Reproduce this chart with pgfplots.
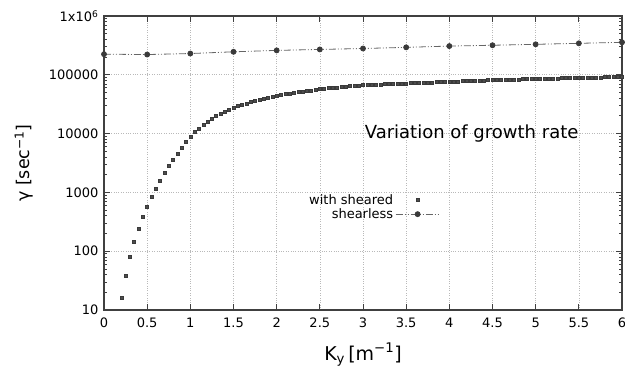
\documentclass[border=0pt]{standalone}
\usepackage{fontspec}
\setmainfont{DejaVu Sans}
\usepackage{pgfplots}
\pgfplotsset{compat=1.18}
\usepackage{pgfplotstable}
\definecolor{axisgray}{HTML}{404040}
\definecolor{markgray}{HTML}{3A3A3A}
\definecolor{linegray}{HTML}{666666}

\pgfplotstableread{
x y
0.20 16
0.25 38
0.30 80
0.35 145
0.40 245
0.45 390
0.50 580
0.55 830
0.60 1150
0.65 1580
0.70 2150
0.75 2800
0.80 3600
0.85 4600
0.90 5800
0.95 7200
1.00 8900
1.05 10600
1.10 12300
1.15 14100
1.20 16000
1.25 18000
1.30 19950
1.35 21900
1.40 23700
1.45 25700
1.50 27500
1.55 29200
1.60 30900
1.65 32700
1.70 34300
1.75 35900
1.80 37600
1.85 39400
1.90 40700
1.95 42200
2.00 43700
2.05 45200
2.10 46800
2.15 47900
2.20 49500
2.25 50700
2.30 51900
2.35 53100
2.40 54300
2.45 55600
2.50 56900
2.55 58200
2.60 59200
2.65 60300
2.70 61200
2.75 62200
2.80 63100
2.85 64000
2.90 64900
2.95 65800
3.00 66500
3.05 67000
3.10 67500
3.15 68000
3.20 68600
3.25 69100
3.30 69600
3.35 70100
3.40 70600
3.45 71100
3.50 71600
3.55 72100
3.60 72600
3.65 73100
3.70 73600
3.75 74100
3.80 74700
3.85 75200
3.90 75700
3.95 76200
4.00 76700
4.05 77200
4.10 77600
4.15 78100
4.20 78500
4.25 79000
4.30 79400
4.35 79900
4.40 80400
4.45 80800
4.50 81300
4.55 81700
4.60 82100
4.65 82500
4.70 82900
4.75 83300
4.80 83700
4.85 84100
4.90 84500
4.95 84800
5.00 85100
5.05 85500
5.10 85900
5.15 86300
5.20 86700
5.25 87100
5.30 87500
5.35 87900
5.40 88300
5.45 88700
5.50 89100
5.55 89400
5.60 89700
5.65 90000
5.70 90300
5.75 90600
5.80 90900
5.85 91300
5.90 91600
5.95 91900
6.00 92200
}\sheared

\pgfplotstableread{
x y
0.0 224000
0.5 221000
1.0 230000
1.5 246000
2.0 260000
2.5 270000
3.0 280000
3.5 293000
4.0 308000
4.5 318000
5.0 330000
5.5 343000
6.0 357000
}\shearless

\begin{document}
\begin{tikzpicture}
\begin{axis}[
  scale only axis, width=518bp, height=294bp,
  ymode=log, xmin=0, xmax=6, ymin=10, ymax=1e6,
  clip=false,
  xtick={0,0.5,1,1.5,2,2.5,3,3.5,4,4.5,5,5.5,6},
  xticklabels={0,0.5,1,1.5,2,2.5,3,3.5,4,4.5,5,5.5,6},
  ytick={10,100,1000,10000,100000,1000000},
  yticklabels={10,100,1000,10000,100000,1x10\textsuperscript{6}},
  /pgf/number format/assume math mode=true,
  tick label style={font=\fontsize{13bp}{15bp}\selectfont, text=black},
  xticklabel style={yshift=-4bp},
  yticklabel style={xshift=-2bp},
  tick align=inside,
  major tick length=6bp, minor tick length=3bp,
  tick style={axisgray, line width=0.8pt},
  axis line style={axisgray, line width=1.1pt},
  grid=major,
  major grid style={dotted, gray!55, line width=0.6pt},
  xlabel={K\textsubscript{y}\,[m\textsuperscript{−1}]},
  ylabel={γ [sec\textsuperscript{−1}]},
  label style={font=\fontsize{19bp}{22bp}\selectfont},
  xlabel style={at={(axis description cs:0.5,0)}, anchor=base, yshift=-50bp},
  ylabel style={at={(axis description cs:0,0.5)}, anchor=center, yshift=80bp, font=\fontsize{17.5bp}{21bp}\selectfont},
  legend style={draw=none, fill=none, at={(axis description cs:0.651,0.405)}, anchor=north east,
    font=\fontsize{13bp}{15bp}\selectfont, row sep=-1bp, inner sep=1bp},
  legend cell align=right,
  legend plot pos=right,
  legend image code/.code={\draw[mark repeat=2,mark phase=2,#1] plot coordinates {(0bp,0bp)(22bp,0bp)(44bp,0bp)};},
]
\addplot[only marks, mark=square*, mark size=1.5bp, mark options={draw=markgray, fill=gray!60!black, line width=0.5pt}] table[x=x,y=y]{\sheared};
\addlegendentry{with sheared}
\addplot[linegray, line width=0.8pt, dash pattern=on 7bp off 2bp on 1bp off 2bp on 1bp off 2bp, mark=*, mark size=2.5bp, mark options={solid, fill=markgray, draw=markgray}] table[x=x,y=y]{\shearless};
\addlegendentry{shearless}
\node[anchor=base, font=\fontsize{18bp}{21bp}\selectfont] at (axis cs:4.258,8400) {Variation of growth rate};
\end{axis}
\pgfresetboundingbox
\path ([shift={(-104bp,-55bp)}]current axis.south west) rectangle ([shift={(3bp,16bp)}]current axis.north east);
\end{tikzpicture}
\end{document}
